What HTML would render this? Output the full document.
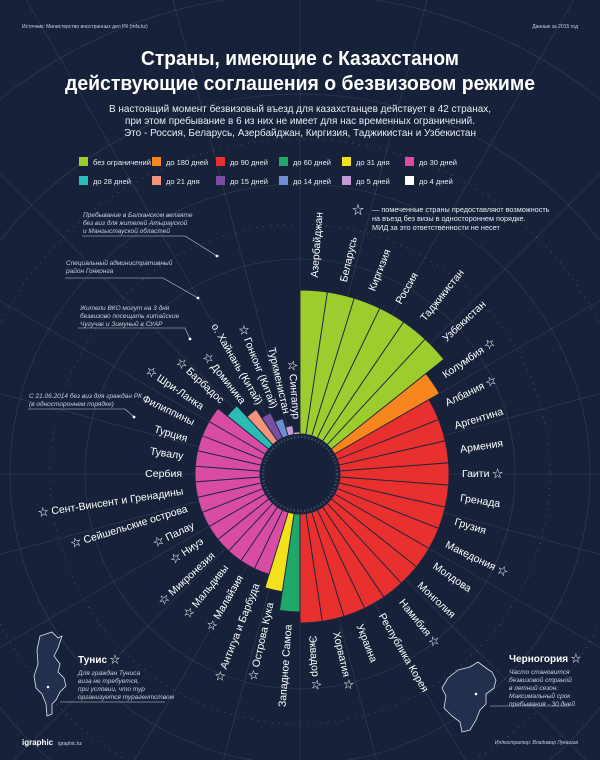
<!DOCTYPE html>
<html><head><meta charset="utf-8">
<style>
html,body{margin:0;padding:0;background:#17223a;overflow:hidden;}
svg{display:block;font-family:"Liberation Sans","Noto Sans CJK SC",sans-serif;}
</style></head>
<body>
<svg id="s" width="600" height="760" viewBox="0 0 600 760" xmlns="http://www.w3.org/2000/svg">
<rect width="600" height="760" fill="#17223a"/>
<g id="grid" stroke="#ffffff" stroke-opacity="0.13" fill="none" stroke-width="0.6"></g>
<text x="22" y="28" fill="#c8cfdc" font-size="5">Источник: Министерство иностранных дел РК (mfa.kz)</text>
<text x="578" y="28" fill="#c8cfdc" font-size="5" text-anchor="end">Данные за 2015 год</text>
<text x="300" y="65" fill="#fff" font-size="20" font-weight="bold" text-anchor="middle" textLength="318" lengthAdjust="spacingAndGlyphs">Страны, имеющие с Казахстаном</text>
<text x="300" y="90" fill="#fff" font-size="20" font-weight="bold" text-anchor="middle" textLength="470" lengthAdjust="spacingAndGlyphs">действующие соглашения о безвизовом режиме</text>
<g fill="#e8ecf3" font-size="10.5" text-anchor="middle">
<text x="300" y="112" textLength="382" lengthAdjust="spacingAndGlyphs">В настоящий момент безвизовый въезд для казахстанцев действует в 42 странах,</text>
<text x="300" y="124" textLength="350" lengthAdjust="spacingAndGlyphs">при этом пребывание в 6 из них не имеет для нас временных ограничений.</text>
<text x="300" y="136" textLength="352" lengthAdjust="spacingAndGlyphs">Это - Россия, Беларусь, Азербайджан, Киргизия, Таджикистан и Узбекистан</text>
</g>
<g id="legend" font-size="7.5" fill="#e8ecf3"></g>
<g fill="#c8cfdc" font-size="6.5" font-style="italic">
<text x="83" y="217">Пребывание в Балханском велаяте</text>
<text x="83" y="225">без виз для жителей Атырауской</text>
<text x="83" y="233">и Мангыстауской областей</text>
<text x="66" y="265">Специальный административный</text>
<text x="66" y="273">район Гонконга</text>
<text x="80" y="310">Жители ВКО могут на 3 дня</text>
<text x="80" y="318">безвизово посещать китайские</text>
<text x="80" y="326">Чугучак и Зимуный в СУАР</text>
<text x="29" y="398">С 21.06.2014 без виз для граждан РК</text>
<text x="29" y="406">(в одностороннем порядке)</text>
</g>
<g stroke="#c8cfdc" stroke-width="0.6" fill="none">
<polyline points="82,236 185,236 217,256"/>
<polyline points="65,278 163,278 198,298"/>
<polyline points="78,328 185,328 190,339"/>
<polyline points="28,409 125,409 134,417"/>
<polyline points="60,702 165,702"/>
<polyline points="570,706 490,706"/>
</g>
<g fill="#fff"><circle cx="217" cy="256" r="1.4"/><circle cx="198" cy="298" r="1.4"/><circle cx="190" cy="339" r="1.4"/><circle cx="134" cy="417" r="1.4"/></g>
<text x="352" y="214" fill="#fff" font-size="12">☆</text>
<g fill="#e8ecf3" font-size="7.3">
<text x="372" y="212">— помеченные страны предоставляют возможность</text>
<text x="372" y="221">на въезд без визы в одностороннем порядке.</text>
<text x="372" y="230">МИД за это ответственности не несет</text>
</g>
<g id="chart"></g>
<path d="M40,636 L52,632 L58,638 L62,636 L58,648 L54,656 L60,664 L58,672 L64,678 L66,686 L60,692 L56,700 L52,704 L52,714 L47,716 L46,704 L42,694 L36,688 L34,676 L38,664 L37,650 Z" fill="#22304e" stroke="#dfe5ee" stroke-width="0.8"/>
<circle cx="48" cy="687" r="1.3" fill="#fff"/>
<text x="78" y="663" fill="#fff" font-size="10" font-weight="bold">Тунис <tspan font-weight="normal">☆</tspan></text>
<g fill="#c8cfdc" font-size="6.5" font-style="italic">
<text x="78" y="675">Для граждан Туниса</text>
<text x="78" y="683">виза не требуется,</text>
<text x="78" y="691">при условии, что тур</text>
<text x="78" y="699">организуется турагентством</text>
</g>
<path d="M448,678 L458,670 L470,667 L478,662 L486,668 L492,672 L496,680 L494,688 L486,694 L486,704 L480,710 L476,720 L470,730 L462,732 L460,722 L452,716 L444,708 L446,696 L442,688 Z" fill="#22304e" stroke="#dfe5ee" stroke-width="0.8"/>
<circle cx="476" cy="694" r="1.3" fill="#fff"/>
<text x="509" y="662" fill="#fff" font-size="10" font-weight="bold">Черногория <tspan font-weight="normal">☆</tspan></text>
<g fill="#c8cfdc" font-size="6.5" font-style="italic">
<text x="509" y="674">Часто становится</text>
<text x="509" y="682">безвизовой страной</text>
<text x="509" y="690">в летний сезон.</text>
<text x="509" y="698">Максимальный срок</text>
<text x="509" y="706">пребывания - 30 дней</text>
</g>
<text x="22" y="745" fill="#fff" font-size="8" font-weight="bold">igraphic</text>
<text x="58" y="745" fill="#c8cfdc" font-size="5">igraphic.kz</text>
<text x="578" y="744" fill="#c8cfdc" font-size="5" font-style="italic" text-anchor="end">Иллюстратор: Владимир Лукашов</text>
</svg>
<script>
var NS="http://www.w3.org/2000/svg",cx=300,cy=474;
function el(t,a,p,txt){var e=document.createElementNS(NS,t);for(var k in a)e.setAttribute(k,a[k]);if(txt!==undefined)e.textContent=txt;p.appendChild(e);return e;}
var grid=document.getElementById('grid');
[215,290,380,480,600].forEach(function(r){el('circle',{cx:cx,cy:cy,r:r},grid);});
for(var a=0;a<360;a+=15){var t=a*Math.PI/180;el('line',{x1:cx+45*Math.sin(t),y1:cy-45*Math.cos(t),x2:cx+900*Math.sin(t),y2:cy-900*Math.cos(t)},grid);}
[250,335].forEach(function(r){el('circle',{cx:cx,cy:cy,r:r,'stroke-dasharray':'1 6','stroke-opacity':'0.35'},grid);});
var C={g:['#9ccc2e',184],o:['#f7861e',161],r:['#e8302f',149],g6:['#1fa86a',138],y:['#f5e11b',119],p:['#d94ca3',105],t:['#2bbdb5',93],s:['#f0957a',78],pu:['#7a4fa3',68],b:['#6f8fd0',58],l:['#c49ad6',49],w:['#ffffff',42]};
var L=document.getElementById('legend');
var leg=[['g','без ограничений'],['o','до 180 дней'],['r','до 90 дней'],['g6','до 60 дней'],['y','до 31 дня'],['p','до 30 дней'],['t','до 28 дней'],['s','до 21 дня'],['pu','до 15 дней'],['b','до 14 дней'],['l','до 5 дней'],['w','до 4 дней']];
var xs=[79,152,216,279,342,405];
leg.forEach(function(d,i){var x=xs[i%6],y=i<6?157:176;el('rect',{x:x,y:y,width:9,height:9,fill:C[d[0]][0]},L);el('text',{x:x+14,y:y+8},L,d[1]);});
var data=[['g','Азербайджан'],['g','Беларусь'],['g','Киргизия'],['g','Россия'],['g','Таджикистан'],['g','Узбекистан'],['o','Колумбия ☆'],['r','Албания ☆'],['r','Аргентина'],['r','Армения'],['r','Гаити ☆'],['r','Гренада'],['r','Грузия'],['r','Македония ☆'],['r','Молдова'],['r','Монголия'],['r','Намибия ☆'],['r','Республика Корея'],['r','Украина'],['r','Хорватия ☆'],['r','Эквадор ☆'],['g6','Западное Самоа'],['y','☆ Острова Кука'],['p','☆ Антигуа и Барбуда'],['p','☆ Малайзия'],['p','☆ Мальдивы'],['p','☆ Микронезия'],['p','☆ Ниуэ'],['p','☆ Палау'],['p','☆ Сейшельские острова'],['p','☆ Сент-Винсент и Гренадины'],['p','Сербия'],['p','Тувалу'],['p','Турция'],['p','Филиппины'],['p','☆ Шри-Ланка'],['t','☆ Барбадос'],['s','☆ Доминика'],['pu','о. Хайнань (Китай)'],['b','☆ Гонконг (Китай)'],['l','Туркменистан'],['w','☆ Сингапур']];
var ch=document.getElementById('chart'),step=360/42,ri=40;
function P(r,deg){var t=deg*Math.PI/180;return [cx+r*Math.sin(t),cy-r*Math.cos(t)];}
data.forEach(function(d,i){var a0=i*step,a1=(i+1)*step,ro=C[d[0]][1];
var p1=P(ri,a0),p2=P(ro,a0),p3=P(ro,a1),p4=P(ri,a1);
el('path',{d:'M'+p1+' L'+p2+' A'+ro+' '+ro+' 0 0 1 '+p3+' L'+p4+' A'+ri+' '+ri+' 0 0 0 '+p1+'Z',fill:C[d[0]][0],stroke:'#1b2540','stroke-width':0.9},ch);
var am=a0+step/2,rl=ro+13,tr='rotate('+(am-90)+' '+cx+' '+cy+') translate('+(cx+rl)+' '+cy+')';
if(am<180){el('text',{transform:tr,'font-size':10.5,fill:'#fff','dominant-baseline':'central'},ch,d[1]);}
else{el('text',{transform:tr+' rotate(180)','font-size':10.5,fill:'#fff','text-anchor':'end','dominant-baseline':'central'},ch,d[1]);}
});
el('circle',{cx:cx,cy:cy,r:37,fill:'#17223a',stroke:'#3a4866','stroke-width':2.5,'stroke-dasharray':'1.5 2'},ch);
</script>
</body></html>
